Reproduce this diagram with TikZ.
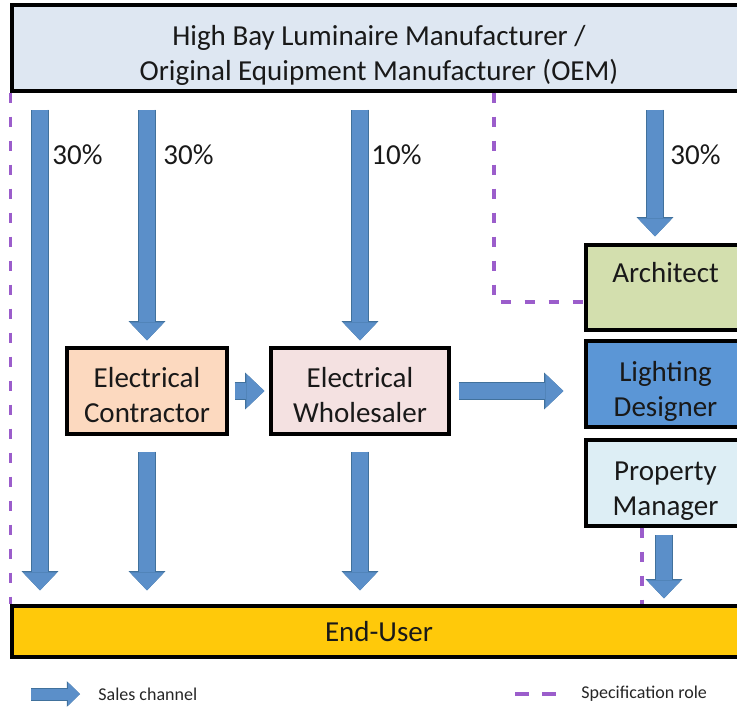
\documentclass[tikz,border=0pt]{standalone}
\usepackage{fontspec}
\setmainfont{Carlito}
\usetikzlibrary{arrows.meta,positioning,calc}

\definecolor{oemfill}{HTML}{DEE7F2}
\definecolor{contrfill}{HTML}{FCD9BF}
\definecolor{wholefill}{HTML}{F4E1E1}
\definecolor{archfill}{HTML}{D3DFAE}
\definecolor{lightfill}{HTML}{5B96D6}
\definecolor{propfill}{HTML}{DDEEF5}
\definecolor{userfill}{HTML}{FFC90A}
\definecolor{salesblue}{HTML}{5B8FC9}
\definecolor{salesedge}{HTML}{41719C}
\definecolor{specpurple}{HTML}{9B5DCB}

\newcommand{\dropby}[1]{\rule{0pt}{#1}}

\begin{document}
\begin{tikzpicture}[
    x=0.5pt, y=-0.5pt,
    party/.style={draw, line width=1.6pt, inner sep=0pt, align=center,
                  text=black!90, font=\fontsize{14.5}{17.5}\selectfont},
    wide/.style={party, minimum width=367pt},
    mid/.style={party, minimum height=43pt},
    role/.style={party, minimum width=79.5pt},
    sales/.style={draw=salesblue, line width=8pt,
                  -{Triangle[length=9pt, width=17pt, line width=0pt]},
                  preaction={draw=salesedge, line width=9pt,
                     -{Triangle[length=9.6pt, width=18.4pt, line width=0pt]}}},
    salesleg/.style={draw=salesblue, line width=5.5pt,
                  -{Triangle[length=6pt, width=11.5pt, line width=0pt]},
                  preaction={draw=salesedge, line width=6.5pt,
                     -{Triangle[length=6.6pt, width=12.9pt, line width=0pt]}}},
    spec/.style={draw=specpurple, line width=1.6pt, dash pattern=on 5pt off 7pt},
    specleg/.style={draw=specpurple, line width=1.6pt, dash pattern=on 7pt off 6.5pt},
    pct/.style={anchor=west, inner sep=0pt, text=black!90,
                font=\fontsize{14.5}{17.5}\selectfont},
    legend/.style={anchor=west, inner sep=0pt, text=black!85,
                   font=\fontsize{9}{11}\selectfont},
]

\useasboundingbox (0,0) rectangle (737,706);
\clip (0,0) rectangle (737,706);

% === Parties ===
\node[wide, minimum height=43pt, fill=oemfill] (oem) at (379,48)
  {\dropby{17.1pt}High Bay Luminaire Manufacturer /\\Original Equipment Manufacturer (OEM)};
\node[mid, minimum width=80pt, fill=contrfill] (ec) at (147,391)
  {\dropby{14.3pt}Electrical\\Contractor};
\node[mid, minimum width=89pt, fill=wholefill] (ew) at (360,391)
  {\dropby{14.3pt}Electrical\\Wholesaler};
\node[role, minimum height=42.5pt, fill=archfill] (arch) at (665.5,287.5) {};
\node[pct, anchor=center] (archtxt) at (665.5,273) {Architect};
\node[role, minimum height=43pt, fill=lightfill] (ld) at (665.5,384)
  {\dropby{17.3pt}Lighting\\Designer};
\node[role, minimum height=43pt, fill=propfill] (pm) at (665.5,483)
  {\dropby{17.3pt}Property\\Manager};
\node[wide, minimum height=25.5pt, fill=userfill] (user) at (379,631.5)
  {End-User};

% === Column positions ===
\coordinate (x1) at (40,0);
\coordinate (x4) at (655,0);
\coordinate (x7) at (664,0);
\coordinate (s1) at (494,0);
\coordinate (s2) at (642,0);

% === Specification roles ===
\draw[spec] (oem.south west) -- (user.north west);
\draw[spec] (oem.south -| s1) |- ($(arch.west)+(0,14.5)$);
\draw[spec] (pm.south -| s2) -- (user.north -| s2);

% === Sales channels ===
\draw[sales, shorten <=8.5pt, shorten >=7pt] (oem.south -| x1) -- (user.north -| x1);
\draw[sales, shorten <=8.5pt, shorten >=3pt] (oem.south -| ec.north) -- (ec.north);
\draw[sales, shorten <=8.5pt, shorten >=3pt] (oem.south -| ew.north) -- (ew.north);
\draw[sales, shorten <=8.5pt, shorten >=3.5pt] (oem.south -| x4) -- (arch.north -| x4);
\draw[sales, shorten <=8pt, shorten >=7pt] (ec.south) -- (user.north -| ec.south);
\draw[sales, shorten <=8pt, shorten >=7pt] (ew.south) -- (user.north -| ew.south);
\draw[sales, shorten <=3.5pt, shorten >=3pt] (pm.south -| x7) -- (user.north -| x7);
\draw[sales, shorten <=3pt, shorten >=2.5pt] (ec.east) -- (ew.west);
\draw[sales, shorten <=4pt, shorten >=10.5pt] (ew.east) -- (ew.east -| ld.west);

% === Shares ===
\node[pct] (p1) at (52,155) {30\%};
\node[pct] (p2) at (163,155) {30\%};
\node[pct] (p3) at (371,155) {10\%};
\node[pct] (p4) at (670,155) {30\%};

% === Legend ===
\coordinate (lga) at (31,694);
\coordinate (lgb) at (80,694);
\draw[salesleg] (lga) -- (lgb);
\node[legend] (lgsales) at (98,694) {Sales channel};
\coordinate (lgc) at (515,694);
\coordinate (lgd) at (556,694);
\draw[specleg] (lgc) -- (lgd);
\node[legend] (lgspec) at (581,694) {Specification role};

\end{tikzpicture}
\end{document}
